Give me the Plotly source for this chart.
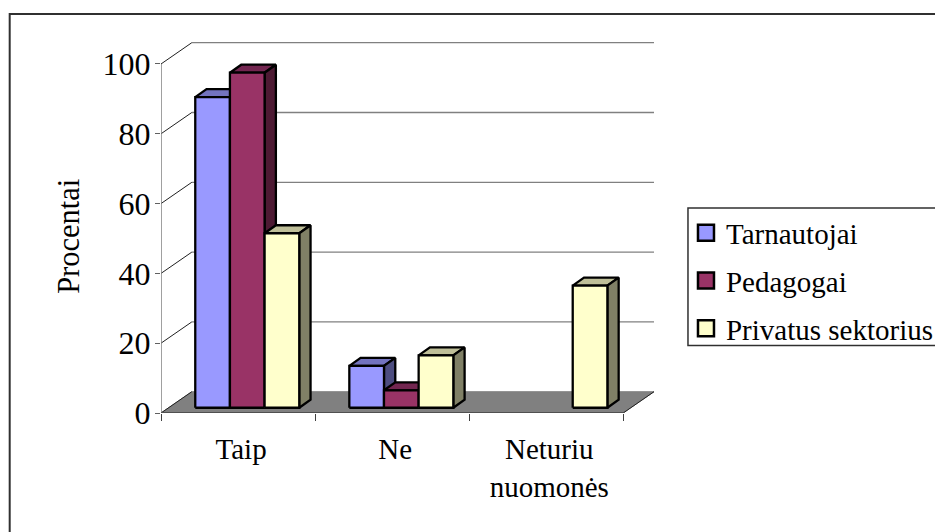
import plotly.graph_objects as go

# ---- data ----
categories = ["Taip", "Ne", "Neturiu<br>nuomonės"]
series_names = ["Tarnautojai", "Pedagogai", "Privatus sektorius"]
tarnautojai = [89, 12, None]
pedagogai = [96, 5, None]
privatus = [50, 15, 35]
y_ticks = [0, 20, 40, 60, 80, 100]
y_title = "Procentai"

front_colors = ["#9999FF", "#993366", "#FFFFCC"]
top_colors = ["#7373BF", "#732650", "#BFBF99"]
side_colors = ["#4D4D80", "#4D1A33", "#808066"]

# ---- 3D look, in axis units ----
WALL_DX, WALL_DY = 0.2, 6.1
BAR_DX, BAR_DY = 0.0733, 2.29
BAR_BASE = 1.5
BAR_W = 0.225
GROUP_START = 0.2224
FONT = "Liberation Serif"
FS = 29

W, H = 935, 532
L, R, T, B = 160.7, 654, 42, 413
x_max = 3.2
y_max = 106.3


def px(x):
    return (x - L) / (R - L)


def py(y):
    return (B - y) / (B - T)


fig = go.Figure()


def line(xs, ys, color, width):
    fig.add_trace(go.Scatter(x=xs, y=ys, mode="lines", showlegend=False, hoverinfo="skip",
                             cliponaxis=False, line=dict(color=color, width=width)))


def poly(xs, ys, fill):
    fig.add_trace(go.Scatter(x=xs, y=ys, mode="lines", fill="toself", fillcolor=fill, showlegend=False,
                             hoverinfo="skip", cliponaxis=False,
                             line=dict(color="black", width=2.3)))


# back wall gridlines and their diagonals on the side wall
for t in y_ticks[1:]:
    line([WALL_DX, x_max], [t + WALL_DY, t + WALL_DY], "#808080", 1.3)
    line([0, WALL_DX], [t, t + WALL_DY], "#202020", 1)

# floor
fig.add_trace(go.Scatter(x=[0, 3, x_max, WALL_DX, 0], y=[0, 0, WALL_DY, WALL_DY, 0], mode="lines", fill="toself",
                         fillcolor="#808080", showlegend=False, hoverinfo="skip", cliponaxis=False,
                         line=dict(color="#808080", width=1)))
line([0, WALL_DX], [0, WALL_DY], "#202020", 1)
line([3, x_max], [0, WALL_DY], "#202020", 1)

# axis lines
line([0, 0], [0, 100], "#808080", 1.5)
line([0, 3], [0, 0], "#505050", 2)

# bars
for s, vals in enumerate([tarnautojai, pedagogai, privatus]):
    tx, ty, sx, sy, fx, fy = [], [], [], [], [], []
    for c, v in enumerate(vals):
        if v is None:
            continue
        x0 = c + GROUP_START + s * BAR_W
        x1 = x0 + BAR_W
        y0 = BAR_BASE
        y1 = BAR_BASE + v
        fx += [x0, x1, x1, x0, x0, None]
        fy += [y0, y0, y1, y1, y0, None]
        tx += [x0, x1, x1 + BAR_DX, x0 + BAR_DX, x0, None]
        ty += [y1, y1, y1 + BAR_DY, y1 + BAR_DY, y1, None]
        sx += [x1, x1 + BAR_DX, x1 + BAR_DX, x1, x1, None]
        sy += [y0, y0 + BAR_DY, y1 + BAR_DY, y1, y0, None]
    poly(tx, ty, top_colors[s])
    poly(sx, sy, side_colors[s])
    poly(fx, fy, front_colors[s])

# legend entries
for s, name in enumerate(series_names):
    fig.add_trace(go.Scatter(x=[None], y=[None], mode="markers", name=name, legendgroup=name,
                             marker=dict(symbol="square", size=16, color=front_colors[s],
                                         line=dict(color="black", width=2.5))))

shapes = [
    dict(type="rect", xref="paper", yref="paper", x0=px(9.3), x1=px(960), y0=py(560), y1=py(14),
         line=dict(color="#303030", width=2), layer="below"),
    dict(type="rect", xref="paper", yref="paper", x0=px(688), x1=px(960), y0=py(345.5), y1=py(208),
         line=dict(color="#303030", width=1.5), layer="below"),
]

fig.update_layout(
    width=W, height=H,
    margin=dict(l=L, r=W - R, t=T, b=H - B, autoexpand=False),
    paper_bgcolor="white", plot_bgcolor="white",
    font=dict(family=FONT, size=FS, color="black"),
    shapes=shapes,
    showlegend=True,
    legend=dict(x=px(686), xanchor="left", y=py(207.5), yanchor="top", bgcolor="rgba(0,0,0,0)",
                borderwidth=0, tracegroupgap=7, font=dict(family=FONT, size=FS)),
    annotations=[dict(text=y_title, xref="paper", yref="paper", x=px(68.5), y=py(236), showarrow=False,
                      textangle=-90, xanchor="center", yanchor="middle", font=dict(family=FONT, size=30.5))],
    xaxis=dict(range=[0, x_max], tickmode="array", tickvals=[0.52, 1.52, 2.52], ticktext=categories,
               ticks="", showgrid=False, zeroline=False, showline=False, tickangle=0,
               ticklabelstandoff=16, tickfont=dict(family=FONT, size=FS),
               minor=dict(tickmode="array", tickvals=[0, 1, 2, 3], ticks="outside", ticklen=7,
                          tickcolor="#404040", tickwidth=1, showgrid=False)),
    yaxis=dict(range=[0, y_max], tickmode="array", tickvals=y_ticks, ticks="outside", ticklen=5,
               tickcolor="#606060", tickwidth=1, showgrid=False, zeroline=False, showline=False,
               ticklabelstandoff=-2, tickfont=dict(family=FONT, size=32)),
)

fig.write_html("out.html", config=dict(displayModeBar=False),
               post_script="document.body.style.margin='0';document.documentElement.style.overflow='hidden';")
